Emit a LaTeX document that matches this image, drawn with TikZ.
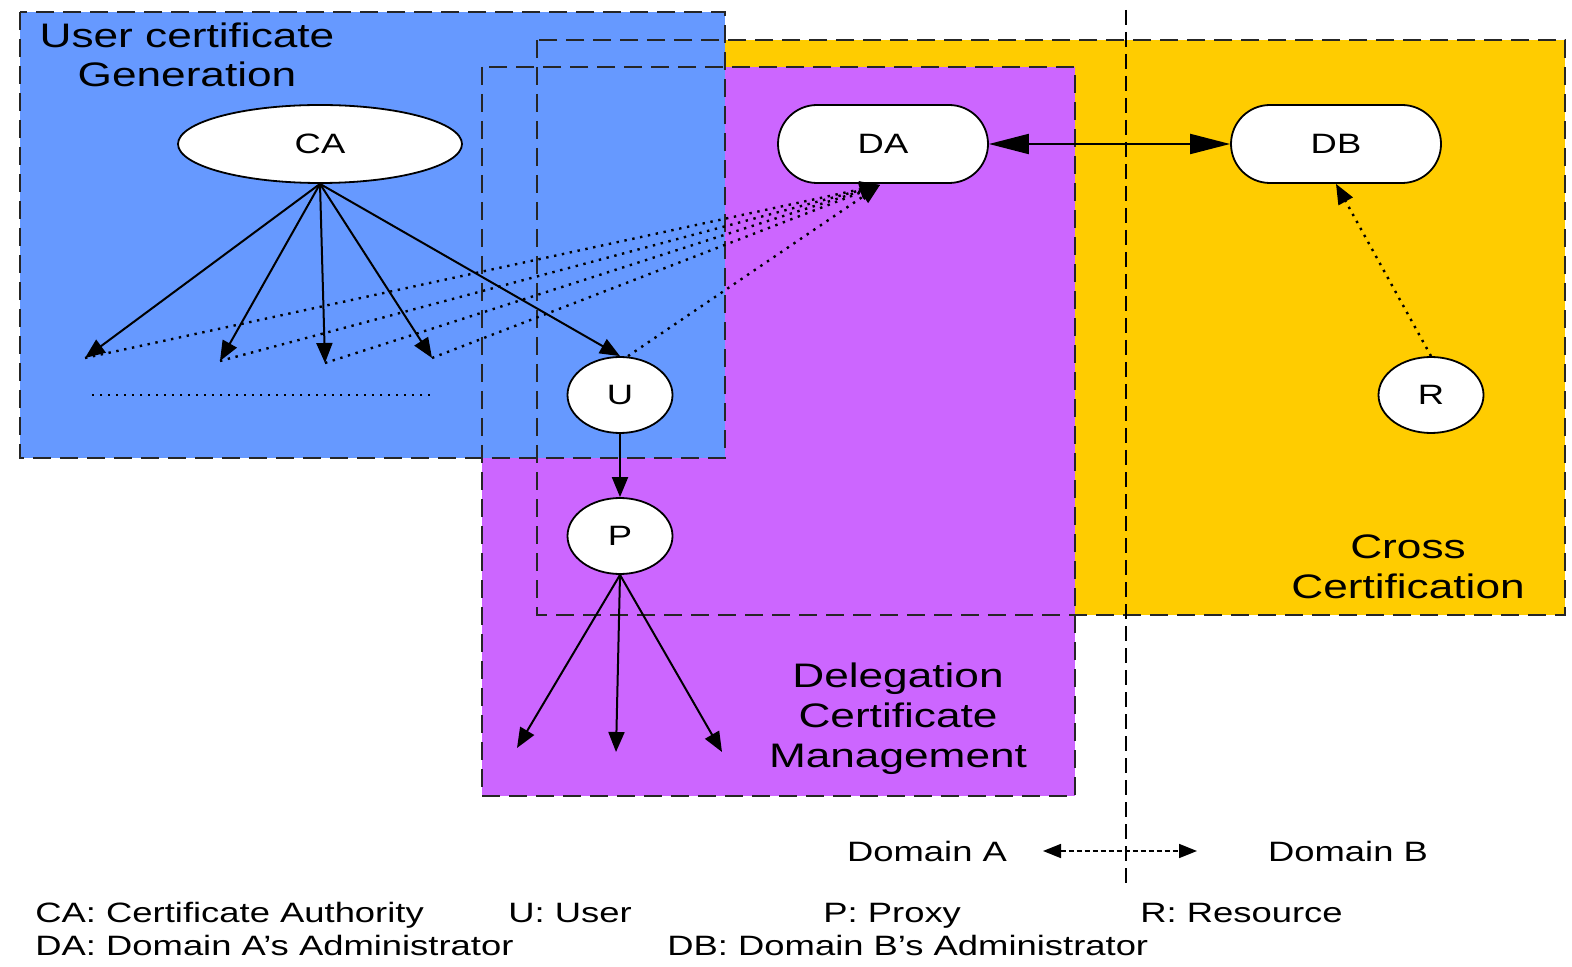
\documentclass[tikz,border=0pt]{standalone}
\usepackage{fontspec}
\setmainfont{Liberation Sans}[FakeStretch=1.3]
\usetikzlibrary{shapes.geometric,arrows.meta}

\definecolor{zoneblue}{HTML}{6699FF}
\definecolor{zonepurple}{HTML}{CC66FF}
\definecolor{zoneyellow}{HTML}{FFCC00}

\begin{document}
\begin{tikzpicture}[x=0.5pt,y=-0.5pt,
  zone/.style={draw=black!85, line width=1.4pt, dash pattern=on 9pt off 4.5pt},
  ent/.style={draw=black, line width=0.9pt, fill=white, inner sep=0pt,
              font=\fontsize{14}{16}\selectfont},
  oval/.style={ent, ellipse},
  pill/.style={ent, rectangle, rounded corners=19.5pt,
               minimum width=105pt, minimum height=39pt},
  title/.style={anchor=base, inner sep=0pt, font=\fontsize{17}{20}\selectfont},
  legend/.style={anchor=base west, inner sep=0pt, font=\fontsize{14}{16}\selectfont},
  link/.style={line width=1pt, -{Triangle[length=10pt,width=8pt]}},
  hint/.style={line width=1.2pt, dash pattern=on 1.2pt off 2.8pt,
               -{Triangle[length=10pt,width=8pt]}},
]
\useasboundingbox (0,0) rectangle (1572,967);

% zone fills (yellow under purple under blue)
\fill[zoneyellow] (537,40) rectangle (1565,615);
\fill[zonepurple] (482,67) rectangle (1075,796);
\fill[zoneblue] (20,12) rectangle (725,458);

% zone borders
\draw[zone] (537,40) rectangle (1565,615);
\draw[zone] (482,67) rectangle (1075,796);
\draw[zone] (20,12) rectangle (725,458);

% domain separator
\coordinate (sepTop) at (1126,10);
\coordinate (sepBot) at (1126,890);
\draw[line width=1.1pt, dash pattern=on 7.5pt off 3.5pt] (sepTop) -- (sepBot);

% entities
\node[oval, minimum width=142pt, minimum height=39pt] (CA) at (320,144) {CA};
\node[pill] (DA) at (883,144) {DA};
\node[pill] (DB) at (1336,144) {DB};
\node[oval, minimum width=52.5pt, minimum height=38pt] (U) at (620,395) {U};
\node[oval, minimum width=52.5pt, minimum height=38pt] (P) at (620,536) {P};
\node[oval, minimum width=52.5pt, minimum height=38pt] (R) at (1431,395) {R};

% issued user certificates
\coordinate (c1) at (85,358);
\coordinate (c2) at (220,361);
\coordinate (c3) at (325,363);
\coordinate (c4) at (432,358);
\coordinate (dain) at (880,185);

\draw[link] (CA.south) -- (c1);
\draw[link] (CA.south) -- (c2);
\draw[link] (CA.south) -- (c3);
\draw[link] (CA.south) -- (c4);
\draw[link] (CA.south) -- (U.north);

\draw[hint] (c1) -- (dain);
\draw[hint] (c2) -- (dain);
\draw[hint] (c3) -- (dain);
\draw[hint] (c4) -- (dain);
\draw[hint] (U.north) ++(8,0) coordinate (uout) -- (dain);

\coordinate (rowL) at (92,395);
\coordinate (rowR) at (430,395);
\draw[line width=1.2pt, dash pattern=on 1.2pt off 2.8pt] (rowL) -- (rowR);

% cross certification
\draw[line width=1pt, {Triangle[length=20pt,width=10pt]}-{Triangle[length=20pt,width=10pt]}]
  (DA.east) -- (DB.west);
\draw[hint] (R.north) -- (DB.south);

% delegation
\coordinate (p1) at (517,748);
\coordinate (p2) at (616,752);
\coordinate (p3) at (722,752);
\draw[link] (U.south) -- (P.north);
\draw[link] (P.south) -- (p1);
\draw[link] (P.south) -- (p2);
\draw[link] (P.south) -- (p3);

% zone titles
\node[title] (tU1) at (187,48) {User certificate};
\node[title] (tU2) at (187,87) {Generation};
\node[title] (tD1) at (898,687) {Delegation};
\node[title] (tD2) at (898,727) {Certificate};
\node[title] (tD3) at (898,767) {Management};
\node[title] (tC1) at (1408,558) {Cross};
\node[title] (tC2) at (1408,598) {Certification};

% domains
\node[legend, anchor=base] (domA) at (927,861) {Domain A};
\node[legend, anchor=base] (domB) at (1348,861) {Domain B};
\coordinate (dL) at (1043,851);
\coordinate (dR) at (1197,851);
\draw[line width=0.8pt, dash pattern=on 2.5pt off 1.5pt,
      {Triangle[length=9pt,width=7pt]}-{Triangle[length=9pt,width=7pt]}] (dL) -- (dR);

% legend
\node[legend] (lgCA) at (35,922) {CA: Certificate Authority};
\node[legend] (lgU) at (508,922) {U: User};
\node[legend] (lgP) at (823,922) {P: Proxy};
\node[legend] (lgR) at (1140,922) {R: Resource};
\node[legend] (lgDA) at (35,955) {DA: Domain A’s Administrator};
\node[legend] (lgDB) at (667,955) {DB: Domain B’s Administrator};
\end{tikzpicture}
\end{document}
